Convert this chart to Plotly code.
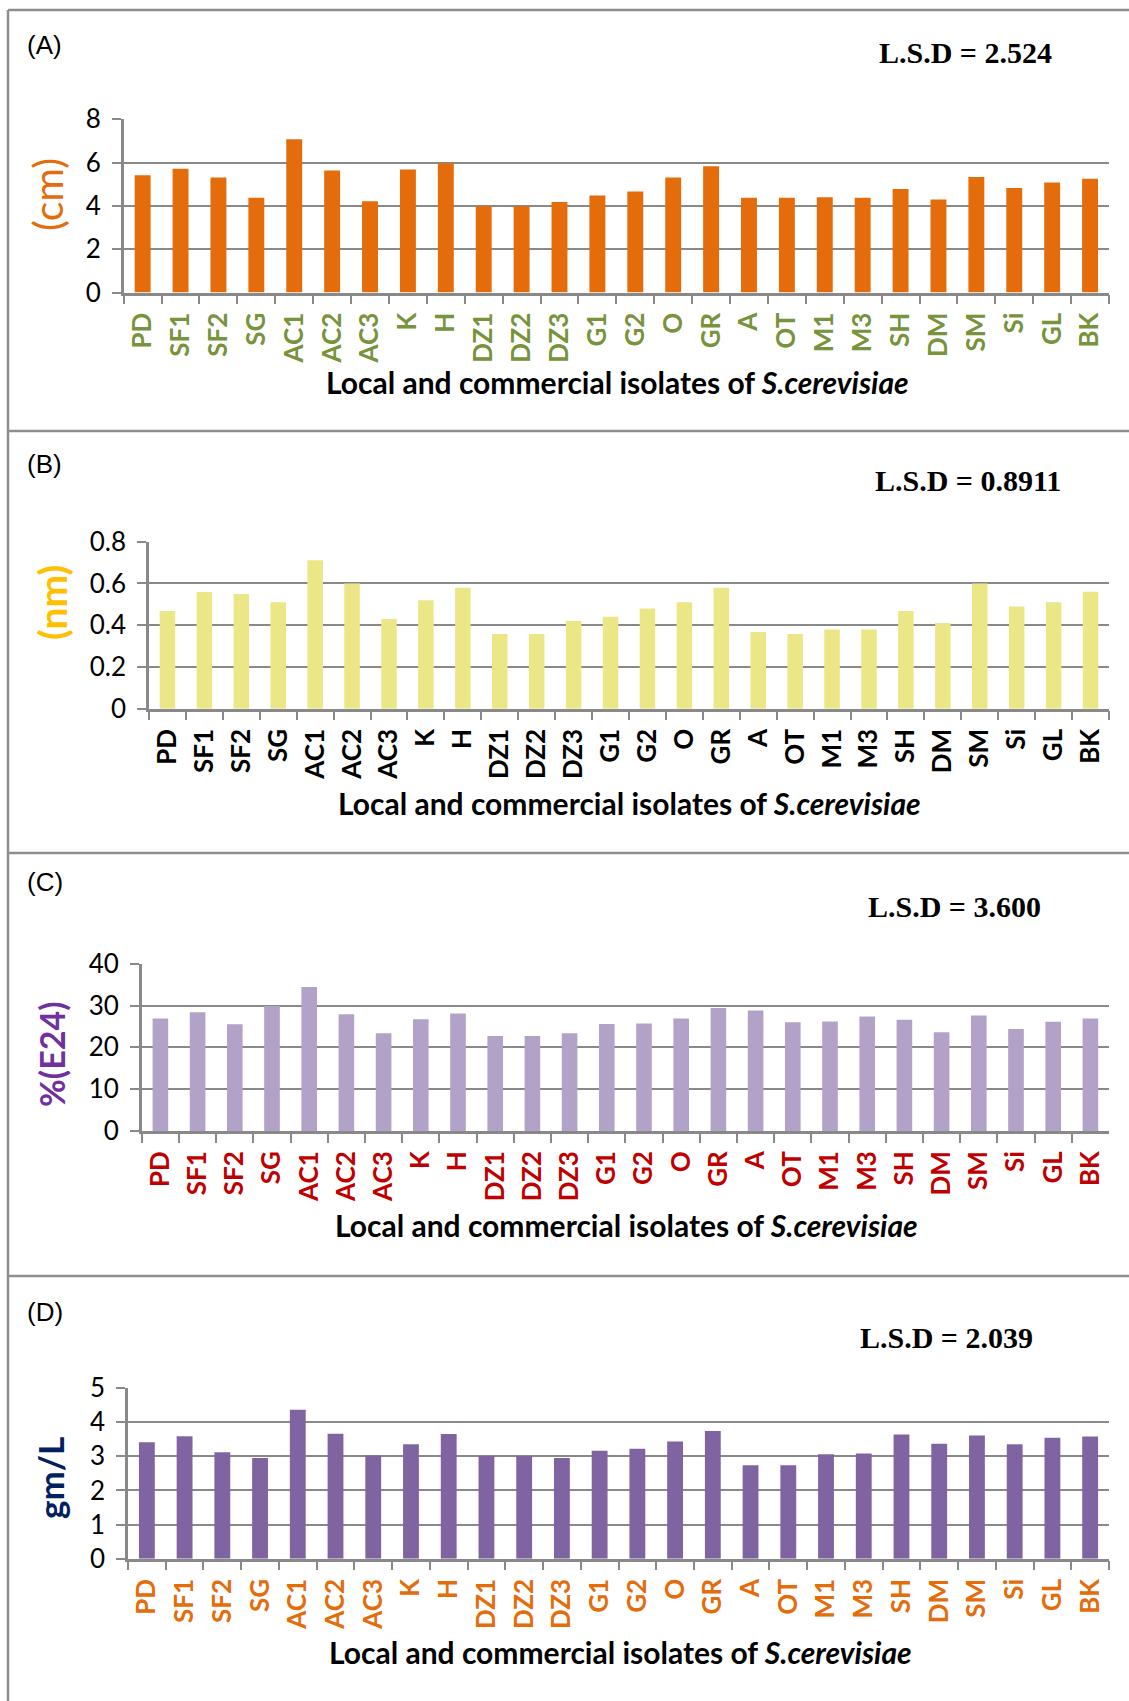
import plotly.graph_objects as go

# Isolates of S. cerevisiae (shared x categories for all four panels)
isolates = ["PD", "SF1", "SF2", "SG", "AC1", "AC2", "AC3", "K", "H", "DZ1", "DZ2", "DZ3",
            "G1", "G2", "O", "GR", "A", "OT", "M1", "M3", "SH", "DM", "SM", "Si", "GL", "BK"]

# (A) values in cm
values_a = [5.42, 5.72, 5.31, 4.38, 7.08, 5.63, 4.22, 5.68, 5.97, 3.98, 3.98, 4.18, 4.48,
            4.66, 5.31, 5.83, 4.38, 4.38, 4.40, 4.38, 4.78, 4.29, 5.34, 4.83, 5.08, 5.25]
# (B) values in nm
values_b = [0.468, 0.559, 0.550, 0.510, 0.711, 0.600, 0.430, 0.520, 0.580, 0.358, 0.358, 0.420,
            0.440, 0.480, 0.510, 0.580, 0.367, 0.358, 0.380, 0.380, 0.468, 0.410, 0.600, 0.490,
            0.510, 0.560]
# (C) emulsification index %(E24)
values_c = [26.9, 28.4, 25.5, 29.9, 34.4, 27.9, 23.4, 26.7, 28.1, 22.7, 22.7, 23.4, 25.6,
            25.7, 26.9, 29.4, 28.8, 26.0, 26.2, 27.4, 26.6, 23.6, 27.6, 24.4, 26.1, 26.9]
# (D) yield in gm/L
values_d = [3.41, 3.59, 3.12, 2.95, 4.36, 3.66, 3.02, 3.35, 3.65, 3.01, 3.01, 2.95, 3.16,
            3.22, 3.43, 3.74, 2.74, 2.74, 3.06, 3.08, 3.64, 3.37, 3.61, 3.35, 3.54, 3.58]

panel_tags = ["(A)", "(B)", "(C)", "(D)"]
lsd_texts = ["L.S.D = 2.524", "L.S.D = 0.8911", "L.S.D = 3.600", "L.S.D = 2.039"]
y_titles = ["(cm)", "(nm)", "%(E24)", "gm/L"]
x_title = "Local and commercial isolates of <i>S.cerevisiae</i>"
y_ranges = [(0, 8, 2), (0, 0.8, 0.2), (0, 40, 10), (0, 5, 1)]

W, H = 1129, 1701
SANS = "Lato, 'Open Sans', sans-serif"


def px(x):
    return x / W


def py(y):
    return 1 - y / H


panels = [
    dict(values=values_a, bar="#E46C0A", tick_color="#77933C", title_color="#E46C0A",
         title_bold=False, title_size=41,
         plot=(123.7, 1109, 119.3, 292.5), tag_y=45, lsd=(965, 52), ytitle=(48, 195), xtitle=(617, 382)),
    dict(values=values_b, bar="#EBE787", tick_color="#000000", title_color="#FFC000",
         title_bold=True, title_size=39,
         plot=(149, 1109, 541.7, 708.7), tag_y=464, lsd=(968, 481), ytitle=(52, 603), xtitle=(629, 803)),
    dict(values=values_c, bar="#B3A2C7", tick_color="#C00000", title_color="#7030A0",
         title_bold=True, title_size=34,
         plot=(141.8, 1109, 963.7, 1131), tag_y=882, lsd=(954, 907), ytitle=(51, 1054), xtitle=(626, 1225)),
    dict(values=values_d, bar="#8064A2", tick_color="#E46C0A", title_color="#002060",
         title_bold=True, title_size=35,
         plot=(128, 1109, 1388, 1558.7), tag_y=1312, lsd=(947, 1337), ytitle=(50, 1478), xtitle=(620, 1652)),
]

GRID = "#898989"
fig = go.Figure()
annotations = []
layout_axes = {}

for i, p in enumerate(panels):
    n = i + 1
    xa = "x" if n == 1 else f"x{n}"
    ya = "y" if n == 1 else f"y{n}"
    fig.add_trace(go.Bar(x=isolates, y=p["values"], xaxis=xa, yaxis=ya,
                         marker=dict(color=p["bar"], line=dict(width=0)), showlegend=False))
    x0, x1, y0, y1 = p["plot"]
    lo, hi, step = y_ranges[i]
    xkey = "xaxis" if n == 1 else f"xaxis{n}"
    ykey = "yaxis" if n == 1 else f"yaxis{n}"
    layout_axes[xkey] = dict(
        domain=[px(x0), px(x1)], anchor=ya, type="category", automargin=False,
        showline=True, linecolor=GRID, linewidth=2.5,
        ticks="outside", tickson="boundaries", ticklen=9, tickwidth=2, tickcolor=GRID,
        tickangle=-90, ticklabelstandoff=7,
        tickfont=dict(family=SANS, size=26, color=p["tick_color"], weight="bold"),
        showgrid=False, fixedrange=True,
    )
    layout_axes[ykey] = dict(
        domain=[py(y1), py(y0)], anchor=xa, range=[lo, hi], dtick=step, tick0=0, automargin=False,
        showline=True, linecolor=GRID, linewidth=2.5,
        ticks="outside", ticklen=9, tickwidth=2, tickcolor=GRID, ticklabelstandoff=6,
        showgrid=True, gridcolor=GRID, gridwidth=2, zeroline=False,
        tickfont=dict(family=SANS, size=26, color="#000000"),
        fixedrange=True,
    )
    # panel tag
    annotations.append(dict(text=panel_tags[i], x=px(25), y=py(p["tag_y"]), xref="paper", yref="paper",
                            xanchor="left", yanchor="middle", showarrow=False,
                            font=dict(family="'Liberation Sans', Arial, sans-serif", size=26, color="#000000")))
    # L.S.D value
    annotations.append(dict(text=f"<b>{lsd_texts[i]}</b>", x=px(p["lsd"][0]), y=py(p["lsd"][1]),
                            xref="paper", yref="paper", xanchor="center", yanchor="middle", showarrow=False,
                            font=dict(family="'Liberation Serif', 'Times New Roman', serif", size=30,
                                      color="#000000")))
    # y title
    yt = y_titles[i] if not p["title_bold"] else f"<b>{y_titles[i]}</b>"
    annotations.append(dict(text=yt, x=px(p["ytitle"][0]), y=py(p["ytitle"][1]), xref="paper", yref="paper",
                            xanchor="center", yanchor="middle", textangle=-90, showarrow=False,
                            font=dict(family=SANS, size=p["title_size"], color=p["title_color"])))
    # x title
    annotations.append(dict(text=f"<b>{x_title}</b>", x=px(p["xtitle"][0]), y=py(p["xtitle"][1]),
                            xref="paper", yref="paper", xanchor="center", yanchor="middle", showarrow=False,
                            font=dict(family=SANS, size=30, color="#000000")))

# panel frames
BORDER = "#8E8E8E"
shapes = []
for yb in [10, 431, 853, 1276]:
    shapes.append(dict(type="line", xref="paper", yref="paper", x0=px(8), x1=1, y0=py(yb), y1=py(yb),
                       line=dict(color=BORDER, width=2.5)))
shapes.append(dict(type="line", xref="paper", yref="paper", x0=px(8), x1=px(8), y0=py(10), y1=0,
                   line=dict(color=BORDER, width=2.5)))

fig.update_layout(
    width=W, height=H, margin=dict(l=0, r=0, t=0, b=0, autoexpand=False),
    paper_bgcolor="white", plot_bgcolor="white",
    bargap=0.58, showlegend=False,
    annotations=annotations, shapes=shapes,
    **layout_axes,
)

fig.write_html("out.html")
